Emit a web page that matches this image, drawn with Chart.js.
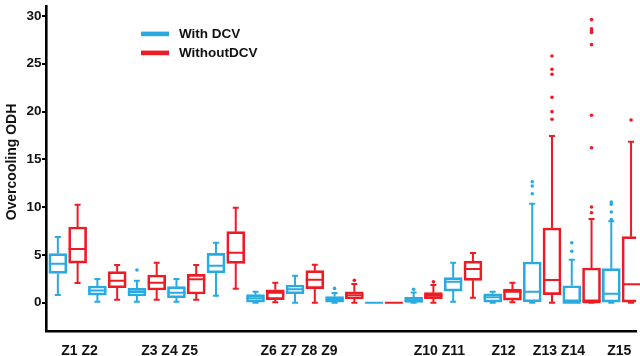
<!DOCTYPE html>
<html>
<head>
<meta charset="utf-8">
<script src="https://cdn.jsdelivr.net/npm/chart.js@4.4.1/dist/chart.umd.min.js"></script>
<style>
  html, body { margin: 0; padding: 0; background: #ffffff; }
  #wrap { width: 640px; height: 356px; position: relative; }
</style>
</head>
<body>
<div id="wrap"><canvas id="c"></canvas></div>
<script>
// Zones, in plotting order: each zone has a "With DCV" box and a "WithoutDCV" box side by side
const zones = ['Z1','Z2','Z3','Z4','Z5','Z6','Z7','Z8','Z9','Z10','Z11','Z12','Z13','Z14','Z15'];

// Axis labels along the bottom and where they sit on the x scale (in box-slot units)
const xLabelText = ['Z1 Z2', 'Z3 Z4 Z5', 'Z6 Z7 Z8 Z9', 'Z10 Z11', 'Z12', 'Z13 Z14', 'Z15'];
const xLabelPos  = [1.1, 5.65, 12.2, 19.3, 22.55, 25.35, 28.4];
const yTickValues = [0, 5, 10, 15, 20, 25, 30];

// With DCV: five-number summaries per zone
const withMin = [0.8, 0.1, 0.1, 0.1, 0.73, 0, 0, 0, 0, 0, 0.1, 0, 0, 0, 0];
const withQ1  = [3.07, 0.8, 0.7, 0.52, 3.14, 0.07, 0.94, 0.07, 0, 0.04, 1.22, 0.07, 0.1, 0, 0.07];
const withMed = [4.08, 1.29, 1.12, 1.05, 3.87, 0.46, 1.4, 0.36, 0, 0.25, 2.2, 0.56, 1.15, 0, 0.94];
const withQ3  = [5.13, 1.75, 1.5, 1.68, 5.17, 0.84, 1.85, 0.63, 0, 0.56, 2.62, 0.94, 4.26, 1.78, 3.56];
const withMax = [6.87, 2.48, 2.3, 2.48, 6.28, 1.15, 2.83, 1.01, 0, 1.08, 4.19, 1.15, 10.36, 4.5, 8.52];
const withOutliers = [[], [], [3.42], [], [], [], [], [1.5], [], [1.4], [], [],
  [11.4, 12.21, 12.66], [5.38, 6.28], [8.69, 9.49, 10.3, 10.54]];

// Without DCV: five-number summaries per zone
const woMin = [2.06, 0.32, 0.32, 0.32, 1.47, 0.04, 0, 0, 0, 0, 0.52, 0.04, 0, 0, 0];
const woQ1  = [4.15, 1.57, 1.33, 0.91, 4.12, 0.32, 1.47, 0.39, 0, 0.42, 2.34, 0.28, 0.84, 0, 0.07];
const woMed = [5.62, 2.3, 2.09, 2.45, 5.23, 1.05, 2.41, 0.77, 0, 0.73, 3.53, 1.15, 2.38, 0.05, 1.92];
const woQ3  = [7.92, 3.25, 2.9, 2.97, 7.43, 1.36, 3.35, 1.15, 0, 1.05, 4.36, 1.43, 7.82, 3.63, 6.91];
const woMax = [10.25, 3.94, 4.19, 3.94, 9.94, 2.1, 3.98, 1.96, 0, 1.85, 5.2, 2.1, 17.44, 8.76, 16.85];
const woOutliers = [[], [], [], [], [], [], [], [2.34], [], [2.2], [], [],
  [19.19, 19.99, 21.49, 23.9, 24.42, 25.81],
  [9.42, 10.01, 16.22, 19.61, 27.0, 28.26, 28.44, 28.65, 29.62],
  [19.12]];

const BLUE = '#29abe2';
const RED = '#ed1c24';
const INK = '#111111';
const FONT = "'Liberation Sans', Arial, Helvetica, sans-serif";

// slot on the x scale: blue box at 2i, red box at 2i + 1
const series = [
  { label: 'With DCV', color: BLUE, slot: 0, min: withMin, q1: withQ1, med: withMed, q3: withQ3, max: withMax, out: withOutliers },
  { label: 'WithoutDCV', color: RED, slot: 1, min: woMin, q1: woQ1, med: woMed, q3: woQ3, max: woMax, out: woOutliers }
];

const boxDatasets = series.map(s => ({
  type: 'bar',
  label: s.label,
  data: zones.map((z, i) => ({ x: 2 * i + s.slot, y: [s.q1[i], s.q3[i]] })),
  backgroundColor: 'rgba(255,255,255,0)',
  borderColor: s.color,
  borderWidth: 2,
  borderSkipped: false,
  barThickness: 18,
  grouped: false,
  order: 2
}));

const outlierDatasets = series.map(s => ({
  type: 'scatter',
  label: s.label + ' outliers',
  data: zones.flatMap((z, i) => s.out[i].map(v => ({ x: 2 * i + s.slot, y: v }))),
  backgroundColor: s.color,
  borderWidth: 0,
  pointRadius: 1.8,
  order: 1
}));

// whiskers, caps and medians for every box
const whiskerPlugin = {
  id: 'whiskers',
  afterDatasetsDraw(chart) {
    const { ctx, scales: { x, y } } = chart;
    ctx.save();
    ctx.lineWidth = 2;
    ctx.lineCap = 'butt';
    series.forEach(s => {
      ctx.strokeStyle = s.color;
      zones.forEach((z, i) => {
        const cx = x.getPixelForValue(2 * i + s.slot);
        const yMin = y.getPixelForValue(s.min[i]);
        const yQ1 = y.getPixelForValue(s.q1[i]);
        const yMed = y.getPixelForValue(s.med[i]);
        const yQ3 = y.getPixelForValue(s.q3[i]);
        const yMax = y.getPixelForValue(s.max[i]);
        ctx.beginPath();
        // upper whisker + cap
        if (yMax < yQ3) {
          ctx.moveTo(cx, yQ3); ctx.lineTo(cx, yMax);
        }
        ctx.moveTo(cx - 3, yMax); ctx.lineTo(cx + 3, yMax);
        // lower whisker + cap
        if (yMin > yQ1) {
          ctx.moveTo(cx, yQ1); ctx.lineTo(cx, yMin);
        }
        ctx.moveTo(cx - 3, yMin); ctx.lineTo(cx + 3, yMin);
        // median
        ctx.moveTo(cx - 9, yMed); ctx.lineTo(cx + 9, yMed);
        ctx.stroke();
      });
    });
    ctx.restore();
  }
};

// legend and vertical axis title
const annotatePlugin = {
  id: 'annotate',
  afterDraw(chart) {
    const { ctx } = chart;
    ctx.save();
    ctx.font = 'bold 13.5px ' + FONT;
    ctx.textBaseline = 'middle';
    ctx.textAlign = 'left';
    const rows = [33.9, 52.9];
    boxDatasets.forEach((ds, k) => {
      ctx.fillStyle = ds.borderColor;
      ctx.fillRect(141, rows[k] - 2.3, 28, 4.6);
      ctx.fillStyle = INK;
      ctx.fillText(ds.label, 179, rows[k]);
    });
    ctx.translate(12.6, 162);
    ctx.rotate(-Math.PI / 2);
    ctx.textAlign = 'center';
    ctx.font = 'bold 14px ' + FONT;
    ctx.fillText('Overcooling ODH', 0, 0);
    ctx.restore();
  }
};

Chart.defaults.font.family = FONT;

new Chart(document.getElementById('c'), {
  type: 'bar',
  data: { datasets: [...boxDatasets, ...outlierDatasets] },
  options: {
    responsive: true,
    maintainAspectRatio: false,
    animation: false,
    devicePixelRatio: 1,
    layout: { padding: { top: 6.4, left: 0, right: 0, bottom: 0 } },
    plugins: { legend: { display: false }, tooltip: { enabled: false } },
    scales: {
      x: {
        type: 'linear',
        min: -0.6,
        max: 29.25,
        offset: false,
        grid: { display: false, offset: false },
        border: { display: true, color: '#000', width: 2.6 },
        afterBuildTicks: scale => { scale.ticks = xLabelPos.map(v => ({ value: v })); },
        afterFit: scale => {
          scale.height = 24.6;
          scale.paddingLeft = 0; scale.paddingRight = 0;
        },
        ticks: {
          autoSkip: false,
          maxRotation: 0,
          minRotation: 0,
          padding: 3,
          color: INK,
          font: { size: 14, weight: 'bold' },
          callback: (value, index) => xLabelText[index]
        }
      },
      y: {
        type: 'linear',
        min: -3,
        max: 31,
        beginAtZero: false,
        grid: { display: true, drawOnChartArea: false, drawTicks: true, tickLength: 4, color: '#000', lineWidth: 2 },
        border: { display: true, color: '#000', width: 2.6 },
        afterBuildTicks: scale => { scale.ticks = yTickValues.map(v => ({ value: v })); },
        afterFit: scale => {
          scale.width = 46;
          scale.paddingTop = 0; scale.paddingBottom = 0;
        },
        ticks: {
          padding: 0.5,
          color: INK,
          font: { size: 13.5, weight: 'bold' }
        }
      }
    }
  },
  plugins: [whiskerPlugin, annotatePlugin]
});
</script>
</body>
</html>
